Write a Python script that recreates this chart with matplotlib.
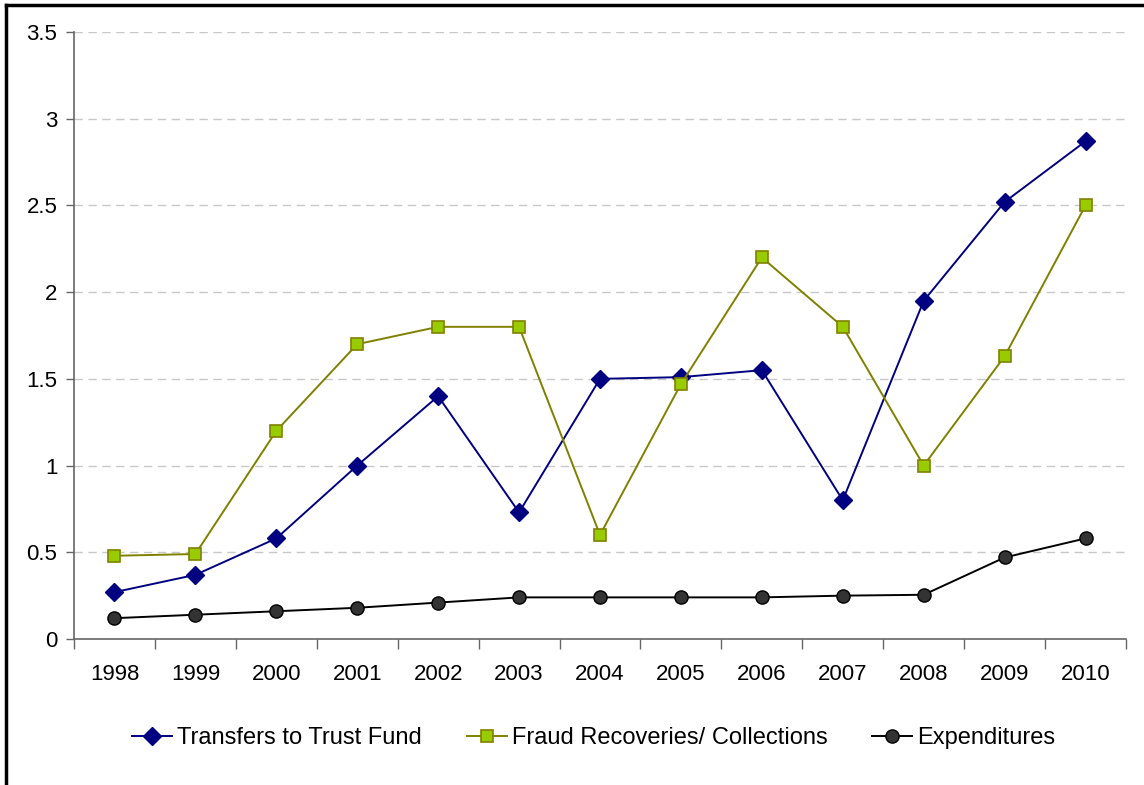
import matplotlib.pyplot as plt
from matplotlib.lines import Line2D
import numpy as np

plt.rcParams['font.family'] = ['Liberation Sans', 'DejaVu Sans']

years = ['1998', '1999', '2000', '2001', '2002', '2003', '2004',
         '2005', '2006', '2007', '2008', '2009', '2010']
transfers = [0.27, 0.37, 0.58, 1.00, 1.40, 0.73, 1.50, 1.51, 1.55, 0.80, 1.95, 2.52, 2.87]
fraud = [0.48, 0.49, 1.20, 1.70, 1.80, 1.80, 0.60, 1.47, 2.20, 1.80, 1.00, 1.63, 2.50]
expenditures = [0.12, 0.14, 0.16, 0.18, 0.21, 0.24, 0.24, 0.24, 0.24, 0.25, 0.255, 0.47, 0.58]

fig = plt.figure(figsize=(11.44, 7.85), dpi=100)
ax = fig.add_axes([74 / 1144, 1 - 639 / 785, 1052 / 1144, 607 / 785])

x = np.arange(len(years))
ax.plot(x, transfers, color='#000080', lw=1.4, marker='D', ms=9.5,
        mfc='#000080', mec='#000080', label='Transfers to Trust Fund', zorder=3)
ax.plot(x, fraud, color='#808000', lw=1.4, marker='s', ms=9,
        mfc='#99CC00', mec='#808000', mew=1.2, label='Fraud Recoveries/ Collections', zorder=3)
ax.plot(x, expenditures, color='#000000', lw=1.4, marker='o', ms=9.5,
        mfc='#333333', mec='#000000', mew=1.0, label='Expenditures', zorder=3)

ax.set_xlim(-0.5, len(years) - 0.5)
ax.set_ylim(0, 3.5)
ax.set_yticks(np.arange(0, 3.51, 0.5))
ax.set_yticklabels(['0', '0.5', '1', '1.5', '2', '2.5', '3', '3.5'])
ax.set_xticks(x)
ax.set_xticklabels(years)
ax.set_xticks(np.arange(-0.5, len(years), 1), minor=True)
ax.tick_params(axis='x', which='major', length=0, pad=18, labelsize=16)
ax.tick_params(axis='x', which='minor', length=7, width=1, color='#666666')
ax.tick_params(axis='y', length=6, width=1, color='#666666', pad=6, labelsize=16)

for v in np.arange(0.5, 3.51, 0.5):
    ax.axhline(v, color='#c8c8c8', lw=1, ls=(0, (6, 4)), zorder=1)

for s in ['top', 'right']:
    ax.spines[s].set_visible(False)
for s in ['left', 'bottom']:
    ax.spines[s].set_color('#666666')
    ax.spines[s].set_linewidth(1.2)

ax.legend(loc='center', bbox_to_anchor=(0.494, -0.163), ncol=3, frameon=False,
          fontsize=17, handlelength=1.7, handletextpad=0.2, columnspacing=1.9)

# outer frame (top and left only)
fig.add_artist(Line2D([0.005, 1], [0.994, 0.994], color='black', lw=2.5, transform=fig.transFigure))
fig.add_artist(Line2D([0.005, 0.005], [0, 0.994], color='black', lw=2.5, transform=fig.transFigure))

fig.savefig('out.png', dpi=100)
